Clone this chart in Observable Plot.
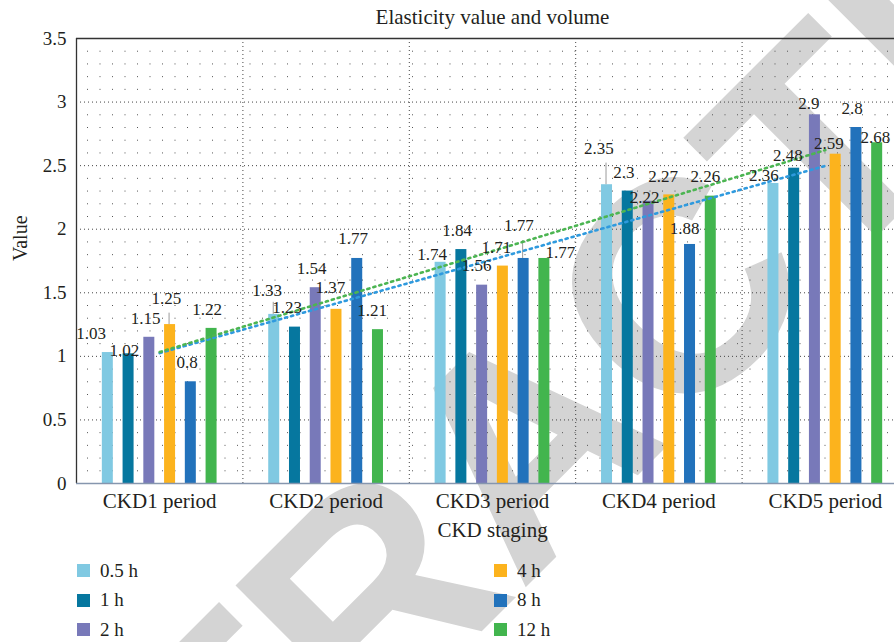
<!DOCTYPE html>
<html>
<head>
<meta charset="utf-8">
<script src="https://cdn.jsdelivr.net/npm/d3@7"></script>
<script src="https://cdn.jsdelivr.net/npm/@observablehq/plot@0.6"></script>
<style>
  body { margin: 0; background: #fff; }
  #wrap { position: relative; width: 894px; height: 642px; overflow: hidden;
          font-family: "Liberation Serif", "DejaVu Serif", serif; color: #231f20; }
  #wm { position: absolute; left: 0; top: 0; }
  #chart { position: absolute; left: 0; top: 0; }
  #legend { position: absolute; left: 77px; top: 556px; display: grid;
            grid-template-columns: 417px 200px; grid-template-rows: repeat(3, 29.5px);
            grid-auto-flow: column; font-size: 19px; }
  .item { display: flex; align-items: center; }
  .sw { width: 13px; height: 13px; margin-right: 10px; flex: none; }
</style>
</head>
<body>
<div id="wrap">
  <svg id="wm" width="894" height="642">
    <text x="-57" y="1170" transform="rotate(-45 -57 1170)" font-family="Liberation Sans, Arial, sans-serif"
          font-weight="bold" font-size="300" fill="#d4d4d4">RETRACTED</text>
  </svg>
  <div id="chart"></div>
  <div id="legend"></div>
</div>
<script>
// ---- data ----
const categories = ["CKD1 period", "CKD2 period", "CKD3 period", "CKD4 period", "CKD5 period"];
const series = ["0.5 h", "1 h", "2 h", "4 h", "8 h", "12 h"];
const v05 = [1.03, 1.33, 1.74, 2.35, 2.36];
const v1  = [1.02, 1.23, 1.84, 2.3, 2.48];
const v2  = [1.15, 1.54, 1.56, 2.22, 2.9];
const v4  = [1.25, 1.37, 1.71, 2.27, 2.59];
const v8  = [0.8, 1.77, 1.77, 1.88, 2.8];
const v12 = [1.22, 1.21, 1.77, 2.26, 2.68];
const yTicks = [0, 0.5, 1, 1.5, 2, 2.5, 3, 3.5];
const colors = ["#80c9e2", "#06779f", "#7879b9", "#fcb31d", "#2272bb", "#42b54e"];
const trendSeries = ["0.5 h", "12 h"];
const trendColors = ["#2f9ade", "#4cb552"];

// label nudges in px [dx, dy], per series, per category
const labelNudge = [
  [[-16.6,-18.7],[-7,-23.9],[-8.4,-7.8],[-8.2,-35.9],[-9.6,-7.9]],
  [[-4.1,-3.3],[-7.8,-19.9],[-4.2,-19.1],[-4,-18.9],[-6.4,-12.7]],
  [[-3.8,-19.1],[-4,-19.5],[-5.6,-19.7],[-4,-4],[-6.1,-11]],
  [[-3.6,-25.8],[-6,-21.8],[-6.4,-18.9],[-6.1,-18.4],[-6.9,-10.4]],
  [[-3.6,-19.6],[-4,-20],[-4.8,-33],[-5.5,-15.7],[-4.2,-18.7]],
  [[-4.4,-18.6],[-5.8,-19.2],[16.1,-6.3],[-5.3,-19.7],[-1.7,-5.6]]
];
// leader lines: series index, category index, length (value units)
const leaders = [[3, 0, 0.09], [0, 1, 0.095], [4, 2, 0.14], [0, 3, 0.17]];

const seriesValues = [v05, v1, v2, v4, v8, v12];
const rows = [];
categories.forEach((c, ci) => series.forEach((s, si) =>
  rows.push({cat: c, ci, series: s, si, value: seriesValues[si][ci]})));

// least-squares linear trend of a series over the category index
function trend(vals) {
  const n = vals.length, xs = d3.range(n);
  const mx = d3.mean(xs), my = d3.mean(vals);
  const b = d3.sum(xs, (x, i) => (x - mx) * (vals[i] - my)) / d3.sum(xs, x => (x - mx) ** 2);
  return xs.map(x => my + b * (x - mx));
}

// ---- layout constants ----
const W = 894, H = 550, left = 76, right = 908;
const bw = (right - left) / categories.length;
const pitch = 20.75, barW = 11;
const inset = (bw - barW) / 2;
const off = si => (si - 2.5) * pitch;
const ink = "#231f20";
const serifFont = "'Liberation Serif', 'DejaVu Serif', serif";

const minorTicks = d3.range(1, 35).filter(i => i % 5 !== 0).map(i => i / 10);

const marks = [
  Plot.ruleY(minorTicks, {stroke: "#555", strokeWidth: 1, strokeDasharray: "1,11.5", strokeDashoffset: -11}),
  Plot.ruleY(yTicks.slice(1, -1), {stroke: "#444", strokeWidth: 1, strokeDasharray: "1,3"}),
  Plot.ruleX(categories.slice(0, 4), {stroke: "#444", strokeWidth: 1, strokeDasharray: "1,3", dx: bw / 2}),
  ...series.map((s, si) => Plot.barY(rows.filter(d => d.si === si), {
    x: "cat", y: "value", fill: "series", dx: off(si), insetLeft: inset, insetRight: inset
  })),
  Plot.ruleY([3.5], {stroke: "#333", strokeWidth: 1.3}),
  Plot.ruleX([categories[0]], {stroke: "#333", strokeWidth: 1.3, dx: -bw / 2}),
  Plot.ruleY([0], {stroke: "#8696ae", strokeWidth: 1.6}),
  ...leaders.map(([si, ci, len]) => {
    const d = rows.find(r => r.si === si && r.ci === ci);
    return Plot.ruleX([d], {x: "cat", y1: "value", y2: r => r.value + len, stroke: "#9a9a9a", strokeWidth: 1, dx: off(si) - 1});
  }),
  ...trendSeries.map((s, k) => {
    const si = series.indexOf(s);
    const fit = trend(seriesValues[si]);
    return Plot.line(categories.map((c, ci) => ({cat: c, fit: fit[ci]})), {
      x: "cat", y: "fit", stroke: trendColors[k], strokeWidth: 2.6, strokeDasharray: "2.2,4"
    });
  }),
  ...rows.map(d => Plot.text([d], {
    x: "cat", y: "value", text: r => String(r.value), fontSize: 17, fill: ink,
    dx: off(d.si) + labelNudge[d.si][d.ci][0], dy: labelNudge[d.si][d.ci][1]
  })),
  Plot.axisY({ticks: yTicks, tickFormat: d => String(d), tickSize: 0, tickPadding: 10, fontSize: 19, label: null, fill: ink}),
  Plot.axisX({tickSize: 0, tickPadding: 10, fontSize: 21, label: null, fill: ink}),
  Plot.text(["Elasticity value and volume"], {frameAnchor: "top", lineAnchor: "middle", dy: -21, dx: 7, fontSize: 21, fill: ink}),
  Plot.text(["CKD staging"], {frameAnchor: "bottom", lineAnchor: "middle", dy: 47, dx: 7, fontSize: 21, fill: ink}),
  Plot.text(["Value"], {frameAnchor: "left", lineAnchor: "middle", dx: -56, rotate: -90, fontSize: 20, fill: ink})
];

const chart = Plot.plot({
  width: W, height: H,
  marginLeft: left, marginRight: 0, marginTop: 38, marginBottom: H - 483,
  x: {type: "band", domain: categories, range: [left, right], padding: 0, round: false, label: null},
  y: {domain: [0, 3.5], label: null},
  color: {domain: series, range: colors},
  style: {background: "transparent", fontFamily: serifFont, color: ink},
  marks
});
document.getElementById("chart").appendChild(chart);

// legend built from the plot's color scale
const color = chart.scale("color");
const leg = document.getElementById("legend");
color.domain.forEach((s, i) => {
  const item = document.createElement("div");
  item.className = "item";
  const sw = document.createElement("span");
  sw.className = "sw";
  sw.style.background = color.range[i];
  const t = document.createElement("span");
  t.textContent = s;
  item.append(sw, t);
  leg.appendChild(item);
});
</script>
</body>
</html>
